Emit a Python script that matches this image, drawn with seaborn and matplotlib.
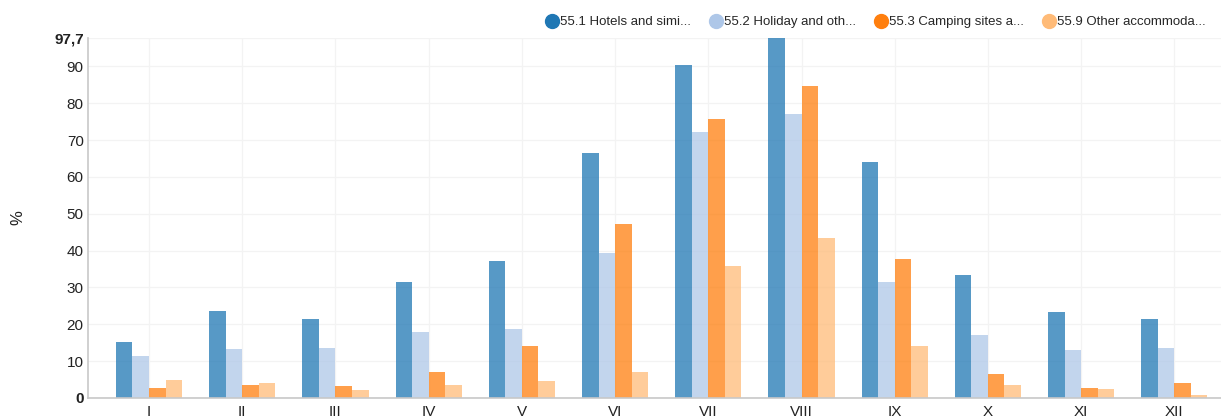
import pandas as pd
import matplotlib
matplotlib.use('Agg')
import matplotlib.pyplot as plt
import seaborn as sns
from matplotlib.lines import Line2D

# Data
months = ['I', 'II', 'III', 'IV', 'V', 'VI', 'VII', 'VIII', 'IX', 'X', 'XI', 'XII']
series_names = ['55.1 Hotels and simi...', '55.2 Holiday and oth...',
                '55.3 Camping sites a...', '55.9 Other accommoda...']
hotels = [15.3, 23.7, 21.3, 31.6, 37.3, 66.6, 90.3, 97.7, 64.1, 33.5, 23.4, 21.5]
holiday = [11.3, 13.2, 13.5, 18.0, 18.8, 39.4, 72.3, 77.0, 31.6, 17.2, 12.9, 13.5]
camping = [2.6, 3.4, 3.2, 7.0, 14.0, 47.3, 75.6, 84.6, 37.6, 6.4, 2.6, 4.0]
other = [5.0, 4.0, 2.2, 3.5, 4.6, 7.0, 35.9, 43.3, 14.0, 3.5, 2.4, 0.8]
colors = ['#1f77b4', '#aec7e8', '#ff7f0e', '#ffbb78']

frames = []
for name, vals in zip(series_names, [hotels, holiday, camping, other]):
    frames.append(pd.DataFrame({'month': months, 'value': vals, 'series': name}))
data = pd.concat(frames, ignore_index=True)

sns.set_style('white')
plt.rcParams['font.family'] = ['Liberation Sans', 'DejaVu Sans']

fig = plt.figure(figsize=(12.21, 4.18), dpi=100)
ax = fig.add_axes([0.072, 0.048, 0.928, 0.861])

sns.barplot(data=data, x='month', y='value', hue='series', order=months,
            hue_order=series_names, palette=colors, width=0.71, alpha=0.75,
            saturation=1, linewidth=0, legend=False, ax=ax)

ax.set_xlim(-0.655, 11.5)
ax.set_ylim(0, 97.7)
ax.set_yticks([0, 10, 20, 30, 40, 50, 60, 70, 80, 90, 97.7])
ax.set_yticklabels(['0', '10', '20', '30', '40', '50', '60', '70', '80', '90', '97,7'])
for lbl in ax.get_yticklabels():
    if lbl.get_text() in ('0', '97,7'):
        lbl.set_fontweight('bold')
    if lbl.get_text() == '97,7':
        lbl.set_fontsize(10)
ax.tick_params(axis='both', labelsize=11, length=0, pad=5, colors='#222222')
ax.tick_params(axis='y', pad=3)
ax.set_xlabel('')
ax.set_ylabel('%', fontsize=12, color='#222222')
ax.yaxis.set_label_coords(-0.055, 0.5)

ax.grid(True, color='#f3f3f3', linewidth=0.9)
ax.set_axisbelow(True)
for side in ['top', 'right']:
    ax.spines[side].set_visible(False)
for side in ['left', 'bottom']:
    ax.spines[side].set_color('#c8c8c8')
    ax.spines[side].set_linewidth(1.2)

handles = [Line2D([0], [0], marker='o', linestyle='', markersize=10,
                  markerfacecolor=c, markeredgecolor=c) for c in colors]
fig.legend(handles, series_names, loc='upper right', bbox_to_anchor=(0.997, 0.99),
           ncol=4, frameon=False, fontsize=9.5, handletextpad=0.1,
           columnspacing=1.4, handlelength=1.0)

plt.savefig('out.png', dpi=100)
